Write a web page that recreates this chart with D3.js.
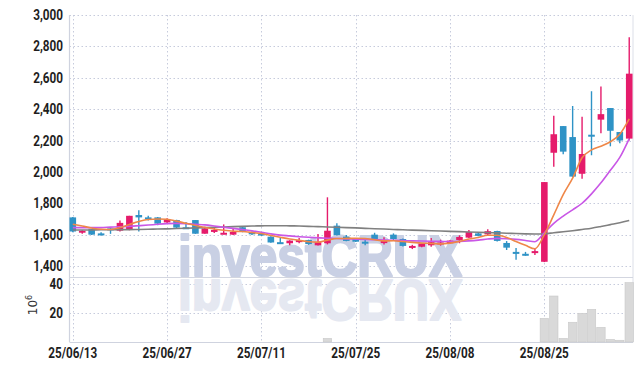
<!DOCTYPE html>
<html>
<head>
<meta charset="utf-8">
<script src="https://cdn.jsdelivr.net/npm/d3@7"></script>
<style>
  body { margin: 0; background: #fff; }
  svg { display: block; }
  .tick-label { font-family: Roboto, "Noto Sans", sans-serif; font-weight: 700; fill: #1e1e1e; }
</style>
</head>
<body>
<div id="chart"></div>
<script>
// trading days 25/06/13 .. 25/09/05
var dates = ["25/06/13","25/06/16","25/06/17","25/06/18","25/06/19","25/06/20","25/06/23","25/06/24","25/06/25","25/06/26",
  "25/06/27","25/06/30","25/07/01","25/07/02","25/07/03","25/07/04","25/07/07","25/07/08","25/07/09","25/07/10",
  "25/07/11","25/07/14","25/07/15","25/07/16","25/07/17","25/07/18","25/07/21","25/07/22","25/07/23","25/07/24",
  "25/07/25","25/07/28","25/07/29","25/07/30","25/07/31","25/08/01","25/08/04","25/08/05","25/08/06","25/08/07",
  "25/08/08","25/08/11","25/08/12","25/08/13","25/08/14","25/08/18","25/08/19","25/08/20","25/08/21","25/08/22",
  "25/08/25","25/08/26","25/08/27","25/08/28","25/08/29","25/09/01","25/09/02","25/09/03","25/09/04","25/09/05"];

var open  = [1710,1615,1635,1608,1640,1625,1635,1725,1710,1710, 1678,1693,1647,1693,1606,1623,1604,1600,1647,1617,
             1607,1587,1552,1545,1556,1566,1532,1545,1657,1587, 1575,1555,1600,1546,1600,1572,1517,1523,1532,1540,
             1545,1566,1581,1608,1602,1623,1547,1490,1478,1483, 1427,2122,2292,2222,1988,2237,2333,2407,2254,2212];
var high  = [1712,1628,1636,1615,1641,1690,1720,1755,1720,1712, 1705,1695,1680,1693,1650,1645,1665,1640,1655,1620,
             1610,1590,1578,1565,1578,1568,1604,1838,1672,1597, 1578,1575,1612,1583,1608,1575,1535,1545,1578,1568,
             1565,1596,1630,1615,1634,1625,1559,1515,1490,1508, 1935,2358,2292,2420,2352,2514,2545,2407,2254,2858];
var low   = [1615,1605,1598,1595,1605,1620,1628,1620,1690,1660, 1668,1640,1640,1605,1605,1610,1603,1598,1615,1598,
             1592,1548,1545,1532,1545,1535,1530,1538,1595,1558, 1553,1532,1568,1537,1560,1525,1508,1520,1523,1530,
             1543,1545,1578,1590,1591,1557,1502,1440,1465,1470, 1425,2033,2112,1968,1956,2106,2246,2163,2182,2200];
var close = [1620,1625,1600,1604,1630,1675,1720,1710,1705,1670, 1697,1645,1643,1606,1640,1630,1612,1617,1617,1602,
             1595,1550,1549,1562,1565,1540,1552,1625,1597,1560, 1555,1550,1570,1560,1572,1528,1528,1542,1552,1550,
             1562,1585,1617,1592,1622,1560,1517,1486,1476,1495, 1935,2240,2129,1970,2114,2232,2368,2262,2200,2626];

// volume, 10^6 shares
var volume = [0,0,0,0,0,0,0,0,0,0, 0,0,0,0,0,0,0,0,0,0,
              0,0,0,0,0,0,0,2.5,0,0, 0,0,0,0,0,0,0,0,0,0,
              0,0,0,0,0,0,0,0,0,0, 16.3,31.7,2.5,13.6,19.8,22.5,10.1,1.8,1.2,40.9];

var ma5  = [1666,1655,1642,1634,1633,1645,1665,1684,1697,1700, 1698,1686,1672,1658,1646,1636,1628,1622,1620,1614,
            1607,1595,1583,1572,1564,1555,1552,1565,1575,1576, 1577,1575,1567,1560,1561,1556,1551,1546,1544,1541,
            1546,1557,1572,1582,1596,1596,1582,1556,1532,1510, 1600,1726,1855,1960,2090,2140,2163,2192,2240,2338];
var ma20 = [1645,1645,1645,1645,1648,1650,1653,1657,1661,1666, 1670,1672,1670,1666,1662,1655,1647,1640,1632,1624,
            1615,1605,1597,1592,1587,1583,1580,1577,1575,1573, 1571,1570,1568,1566,1564,1562,1560,1559,1558,1557,
            1556,1557,1560,1565,1572,1576,1574,1570,1563,1555, 1612,1672,1718,1758,1800,1860,1930,2010,2092,2212];
var ma60 = [1630,1630,1630,1631,1631,1632,1632,1633,1634,1636, 1637,1639,1641,1643,1645,1647,1649,1651,1653,1655,
            1656,1657,1657,1656,1655,1653,1651,1649,1647,1645, 1643,1640,1638,1636,1633,1631,1629,1627,1625,1623,
            1621,1619,1617,1615,1613,1611,1609,1607,1605,1604, 1606,1612,1618,1625,1633,1641,1652,1664,1676,1690];

var priceTicks = [1400,1600,1800,2000,2200,2400,2600,2800,3000];
var volTicks = [20,40];
var dateTicks = ["25/06/13","25/06/27","25/07/11","25/07/25","25/08/08","25/08/25"];

var width = 643, height = 371;
var left = 69.5, right = 633;
var priceTop = 15, priceBottom = 277, volBottom = 342;

var UP = "#e51b6b", DOWN = "#2f93c6", GRID = "#c6cbdc";

var idx = d3.range(dates.length);
var x = d3.scaleLinear().domain([-0.35, 59.4]).range([left, right]);
var y = d3.scaleLinear().domain([1330, 3000]).range([priceBottom, priceTop]);
var yv = d3.scaleLinear().domain([0, 44.8]).range([volBottom, priceBottom]);

var svg = d3.select("#chart").append("svg")
  .attr("width", width).attr("height", height);

// grid
var grid = svg.append("g");
grid.selectAll("line.hp").data(priceTicks).enter().append("line")
  .attr("x1", left).attr("x2", right)
  .attr("y1", function (d) { return Math.round(y(d)) + 0.5; })
  .attr("y2", function (d) { return Math.round(y(d)) + 0.5; })
  .attr("stroke", GRID).attr("stroke-dasharray", "1.5,2.5");
grid.selectAll("line.hv").data(volTicks).enter().append("line")
  .attr("x1", left).attr("x2", right)
  .attr("y1", function (d) { return Math.round(yv(d)) + 0.5; })
  .attr("y2", function (d) { return Math.round(yv(d)) + 0.5; })
  .attr("stroke", GRID).attr("stroke-dasharray", "1.5,2.5");
grid.selectAll("line.v").data(dateTicks).enter().append("line")
  .attr("x1", function (d) { return Math.round(x(dates.indexOf(d))) + 0.5; })
  .attr("x2", function (d) { return Math.round(x(dates.indexOf(d))) + 0.5; })
  .attr("y1", priceTop).attr("y2", volBottom)
  .attr("stroke", GRID).attr("stroke-dasharray", "1.5,2.5");

// frame
svg.append("line").attr("x1", left).attr("x2", left).attr("y1", priceTop).attr("y2", volBottom)
  .attr("stroke", "#cfd3df").attr("stroke-width", 1.2);
svg.append("line").attr("x1", right).attr("x2", right).attr("y1", priceTop).attr("y2", volBottom)
  .attr("stroke", "#dcdfe8");
svg.append("line").attr("x1", left).attr("x2", right).attr("y1", priceBottom + 0.5).attr("y2", priceBottom + 0.5)
  .attr("stroke", "#d3d6e0");
svg.append("line").attr("x1", left).attr("x2", right).attr("y1", volBottom + 0.5).attr("y2", volBottom + 0.5)
  .attr("stroke", "#cfd3df").attr("stroke-width", 1.2);

// watermark; the reflection reuses the same text through <use>
var defs = svg.append("defs");
defs.append("clipPath").attr("id", "wmTop").append("rect")
  .attr("x", left).attr("y", priceTop).attr("width", right - left).attr("height", priceBottom - priceTop);
defs.append("clipPath").attr("id", "wmBottom").append("rect")
  .attr("x", left).attr("y", priceBottom + 1).attr("width", right - left).attr("height", volBottom - priceBottom - 1);

var wmTop = svg.append("g").attr("clip-path", "url(#wmTop)")
  .attr("fill", "#c9d0e4").attr("stroke", "#c9d0e4");
wmTop.append("text").attr("id", "wmText")
  .attr("x", 178).attr("y", 276)
  .attr("textLength", 284).attr("lengthAdjust", "spacingAndGlyphs")
  .attr("stroke-width", 2.2).attr("stroke-linejoin", "round")
  .style("font-family", "\"Liberation Sans\", Arial, sans-serif")
  .style("font-weight", "bold").style("font-size", "58px")
  .text("investCRUX");
svg.append("g").attr("clip-path", "url(#wmBottom)").append("use")
  .attr("href", "#wmText")
  .attr("transform", "translate(0," + (2 * 278) + ") scale(1,-1)")
  .attr("fill", "#e5e8f1").attr("stroke", "#e5e8f1");

// volume bars
var step = x(1) - x(0);
svg.append("g").selectAll("rect").data(idx.filter(function (i) { return volume[i] > 0; }))
  .enter().append("rect")
  .attr("x", function (i) { return x(i) - step / 2 + 0.5; })
  .attr("width", step - 1)
  .attr("y", function (i) { return yv(volume[i]); })
  .attr("height", function (i) { return volBottom - yv(volume[i]); })
  .attr("fill", "#d9d9d9").attr("stroke", "#c8c8c8").attr("stroke-width", 0.6);

// candles
var candles = svg.append("g").selectAll("g").data(idx).enter().append("g");
candles.append("line")
  .attr("x1", function (i) { return x(i); })
  .attr("x2", function (i) { return x(i); })
  .attr("y1", function (i) { return y(high[i]); })
  .attr("y2", function (i) { return y(low[i]); })
  .attr("stroke", function (i) { return close[i] >= open[i] ? UP : DOWN; })
  .attr("stroke-width", 1.4);
candles.append("rect")
  .attr("x", function (i) { return x(i) - 3.3; })
  .attr("width", 6.6)
  .attr("y", function (i) { return y(Math.max(open[i], close[i])); })
  .attr("height", function (i) { return Math.max(2, Math.abs(y(open[i]) - y(close[i]))); })
  .attr("fill", function (i) { return close[i] >= open[i] ? UP : DOWN; });

// moving averages
function maLine(data) {
  return d3.line()
    .x(function (i) { return x(i); })
    .y(function (i) { return y(data[i]); })
    .curve(d3.curveMonotoneX)(idx);
}
svg.append("path").attr("d", maLine(ma60)).attr("fill", "none")
  .attr("stroke", "#808080").attr("stroke-width", 1.6);
svg.append("path").attr("d", maLine(ma20)).attr("fill", "none")
  .attr("stroke", "#c957e6").attr("stroke-width", 1.6);
svg.append("path").attr("d", maLine(ma5)).attr("fill", "none")
  .attr("stroke", "#ef8748").attr("stroke-width", 1.6);

// axis labels
svg.append("g").selectAll("text").data(priceTicks).enter().append("text")
  .attr("class", "tick-label")
  .attr("transform", function (d) { return "translate(63," + (y(d) + 5) + ") scale(0.84,1)"; })
  .attr("text-anchor", "end").style("font-size", "14px")
  .text(function (d) { return d3.format(",")(d); });
svg.append("g").selectAll("text").data(volTicks).enter().append("text")
  .attr("class", "tick-label")
  .attr("transform", function (d) { return "translate(63," + (yv(d) + 5) + ") scale(0.84,1)"; })
  .attr("text-anchor", "end").style("font-size", "14px")
  .text(function (d) { return d; });
svg.append("g").selectAll("text").data(dateTicks).enter().append("text")
  .attr("class", "tick-label")
  .attr("x", function (d) { return x(dates.indexOf(d)) - 24.5; })
  .attr("y", 358).style("font-size", "14px")
  .attr("textLength", 49).attr("lengthAdjust", "spacingAndGlyphs")
  .text(function (d) { return d; });

var unit = svg.append("text")
  .attr("transform", "translate(37,305) rotate(-90)")
  .attr("text-anchor", "middle")
  .style("font-family", "\"DejaVu Sans\", sans-serif").style("font-size", "12px").attr("fill", "#333");
unit.append("tspan").text("10");
unit.append("tspan").attr("dy", -5).style("font-size", "8px").text("6");
</script>
</body>
</html>
